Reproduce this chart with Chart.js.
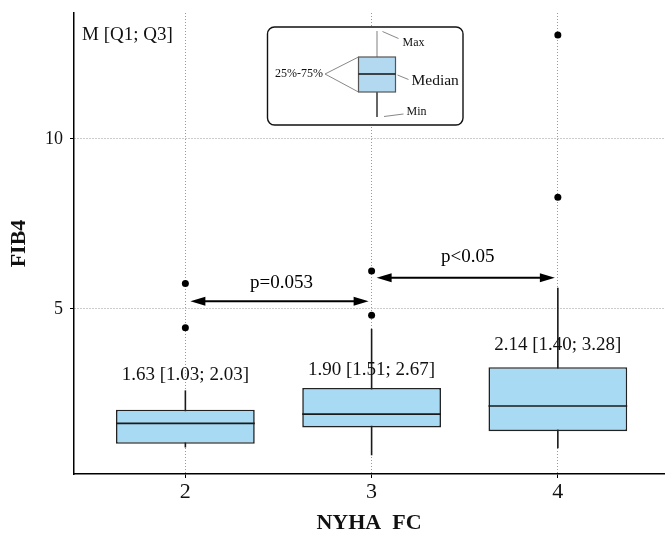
<!DOCTYPE html>
<html>
<head>
<meta charset="utf-8">
<script src="https://cdn.jsdelivr.net/npm/chart.js@4.4.1/dist/chart.umd.min.js"></script>
<style>
  body { margin: 0; background: #fff; }
</style>
</head>
<body>
<canvas id="myChart" width="668" height="545"></canvas>
<script>
// NYHA class groups and box stats (FIB4)
const groups = [2, 3, 4];
const q1 = [1.03, 1.51, 1.40];
const medians = [1.63, 1.90, 2.14];
const q3 = [2.03, 2.67, 3.28];
const whiskerLow = [0.92, 0.69, 0.90];
const whiskerHigh = [2.60, 4.41, 5.62];
const outlierX = [2, 2, 3, 3, 4, 4];
const outlierY = [5.74, 4.44, 4.81, 6.11, 8.28, 13.05];
const boxLabels = ['1.63 [1.03; 2.03]', '1.90 [1.51; 2.67]', '2.14 [1.40; 3.28]'];
const boxLabelY = [3.06, 3.19, 3.92];
const xTicks = [2, 3, 4];
const yTicks = [5, 10];
// pairwise comparisons
const pLabels = ['p=0.053', 'p<0.05'];
const pFrom = [2, 3];
const pTo = [3, 4];
const pArrowY = [5.22, 5.91];
const pTextY = [5.77, 6.51];

const serif = "'Liberation Serif', 'DejaVu Serif', serif";
const boxFill = '#a8daf4';

function arrowHead(ctx, tipX, y, dir) {
  ctx.beginPath();
  ctx.moveTo(tipX, y);
  ctx.lineTo(tipX + dir * 15, y - 4.5);
  ctx.lineTo(tipX + dir * 15, y + 4.5);
  ctx.closePath();
  ctx.fill();
}

const boxExtras = {
  id: 'boxExtras',
  beforeDatasetsDraw(chart) {
    const {ctx, scales: {x, y}} = chart;
    ctx.save();
    ctx.strokeStyle = '#1a1a1a';
    ctx.lineWidth = 1.6;
    groups.forEach((g, i) => {
      const px = x.getPixelForValue(g);
      ctx.beginPath();
      ctx.moveTo(px, y.getPixelForValue(whiskerLow[i]));
      ctx.lineTo(px, y.getPixelForValue(whiskerHigh[i]));
      ctx.stroke();
    });
    ctx.restore();
  },
  afterDatasetsDraw(chart) {
    const {ctx, scales: {x, y}} = chart;
    const bars = chart.getDatasetMeta(0).data;
    ctx.save();
    // medians
    ctx.strokeStyle = '#1a1a1a';
    ctx.lineWidth = 1.6;
    groups.forEach((g, i) => {
      const b = bars[i];
      const py = y.getPixelForValue(medians[i]);
      ctx.beginPath();
      ctx.moveTo(b.x - b.width / 2, py);
      ctx.lineTo(b.x + b.width / 2, py);
      ctx.stroke();
    });
    // box labels
    ctx.fillStyle = '#111';
    ctx.font = '19px ' + serif;
    ctx.textAlign = 'center';
    ctx.textBaseline = 'middle';
    groups.forEach((g, i) => {
      ctx.fillText(boxLabels[i], x.getPixelForValue(g), y.getPixelForValue(boxLabelY[i]));
    });
    // comparison arrows
    ctx.strokeStyle = '#000';
    ctx.fillStyle = '#000';
    ctx.lineWidth = 2;
    pLabels.forEach((lab, i) => {
      const x1 = x.getPixelForValue(pFrom[i]) + 5;
      const x2 = x.getPixelForValue(pTo[i]) - 3;
      const py = y.getPixelForValue(pArrowY[i]);
      ctx.beginPath();
      ctx.moveTo(x1 + 8, py);
      ctx.lineTo(x2 - 8, py);
      ctx.stroke();
      arrowHead(ctx, x1, py, 1);
      arrowHead(ctx, x2, py, -1);
      ctx.fillText(lab, (x1 + x2) / 2 + 2, y.getPixelForValue(pTextY[i]));
    });
    ctx.restore();
  },
  afterDraw(chart) {
    const {ctx, chartArea} = chart;
    ctx.save();
    ctx.fillStyle = '#111';
    ctx.font = '19px ' + serif;
    ctx.textAlign = 'left';
    ctx.textBaseline = 'middle';
    ctx.fillText('M [Q1; Q3]', chartArea.left + 8, chartArea.top + 22);

    // key box
    const lx = 267.5, ly = 27;
    ctx.beginPath();
    ctx.roundRect(lx, ly, 195.5, 98, 7);
    ctx.fillStyle = '#fff';
    ctx.fill();
    ctx.strokeStyle = '#111';
    ctx.lineWidth = 1.4;
    ctx.stroke();

    const wx = lx + 109.5;
    ctx.lineWidth = 1.5;
    ctx.strokeStyle = '#aaa';
    ctx.beginPath(); ctx.moveTo(wx, ly + 4); ctx.lineTo(wx, ly + 30); ctx.stroke();
    ctx.strokeStyle = '#333';
    ctx.beginPath(); ctx.moveTo(wx, ly + 65); ctx.lineTo(wx, ly + 90); ctx.stroke();
    ctx.fillStyle = '#b3d9f1';
    ctx.fillRect(lx + 91, ly + 30, 37, 35);
    ctx.strokeStyle = '#555';
    ctx.lineWidth = 1.2;
    ctx.strokeRect(lx + 91, ly + 30, 37, 35);
    ctx.strokeStyle = '#111';
    ctx.lineWidth = 1.5;
    ctx.beginPath(); ctx.moveTo(lx + 91, ly + 47); ctx.lineTo(lx + 128, ly + 47); ctx.stroke();

    ctx.strokeStyle = '#888';
    ctx.lineWidth = 1;
    ctx.beginPath();
    ctx.moveTo(lx + 115, ly + 4.5); ctx.lineTo(lx + 131, ly + 11.5);
    ctx.moveTo(lx + 130, ly + 48); ctx.lineTo(lx + 141, ly + 52.5);
    ctx.moveTo(lx + 116.5, ly + 89.5); ctx.lineTo(lx + 136, ly + 87);
    ctx.moveTo(lx + 57.5, ly + 47); ctx.lineTo(lx + 91, ly + 30);
    ctx.moveTo(lx + 57.5, ly + 47); ctx.lineTo(lx + 91, ly + 65);
    ctx.stroke();

    ctx.fillStyle = '#111';
    ctx.font = '12px ' + serif;
    ctx.fillText('Max', lx + 135, ly + 16);
    ctx.fillText('Min', lx + 139, ly + 85);
    ctx.fillText('25%-75%', lx + 7.5, ly + 47);
    ctx.font = '15.5px ' + serif;
    ctx.fillText('Median', lx + 144, ly + 54);
    ctx.restore();
  }
};

const config = {
  type: 'bar',
  data: {
    datasets: [{
      type: 'bar',
      data: groups.map((g, i) => ({x: g, y: [q1[i], q3[i]]})),
      backgroundColor: boxFill,
      borderColor: '#222',
      borderWidth: 1.6,
      borderSkipped: false,
      categoryPercentage: 1,
      barPercentage: 0.745
    }, {
      type: 'scatter',
      data: outlierX.map((v, i) => ({x: v, y: outlierY[i]})),
      backgroundColor: '#000',
      borderColor: '#000',
      pointRadius: 3.5,
      borderWidth: 0
    }]
  },
  options: {
    responsive: false,
    animation: false,
    layout: { padding: { top: 13, right: 0, left: 0, bottom: 0 } },
    plugins: { legend: { display: false }, tooltip: { enabled: false } },
    scales: {
      x: {
        type: 'linear',
        offset: false,
        min: 1.402,
        max: 4.57,
        afterBuildTicks: s => { s.ticks = xTicks.map(v => ({value: v})); },
        afterFit: s => { s.height = 71; s.paddingLeft = 0; s.paddingRight = 0; },
        grid: { offset: false, color: '#999', tickColor: '#000', tickLength: 4, tickBorderDash: [] },
        border: { color: '#000', width: 1.5, dash: [1, 2] },
        ticks: { color: '#111', padding: 1, font: { family: serif, size: 22 } },
        title: { display: true, text: 'NYHA  FC', color: '#111', padding: { bottom: 8 },
          font: { family: serif, size: 22, weight: 'bold' } }
      },
      y: {
        min: 0.14,
        max: 13.70,
        afterBuildTicks: s => { s.ticks = yTicks.map(v => ({value: v})); },
        afterFit: s => { s.width = 74; s.paddingTop = 0; s.paddingBottom = 0; },
        grid: { color: '#999', tickColor: '#000', tickLength: 4, tickBorderDash: [] },
        border: { color: '#000', width: 1.5, dash: [1, 2] },
        ticks: { color: '#111', padding: 7, font: { family: serif, size: 18 } },
        title: { display: true, text: 'FIB4', color: '#111', padding: { top: 6 },
          font: { family: serif, size: 22, weight: 'bold' } }
      }
    }
  },
  plugins: [boxExtras]
};

new Chart(document.getElementById('myChart'), config);
</script>
</body>
</html>
